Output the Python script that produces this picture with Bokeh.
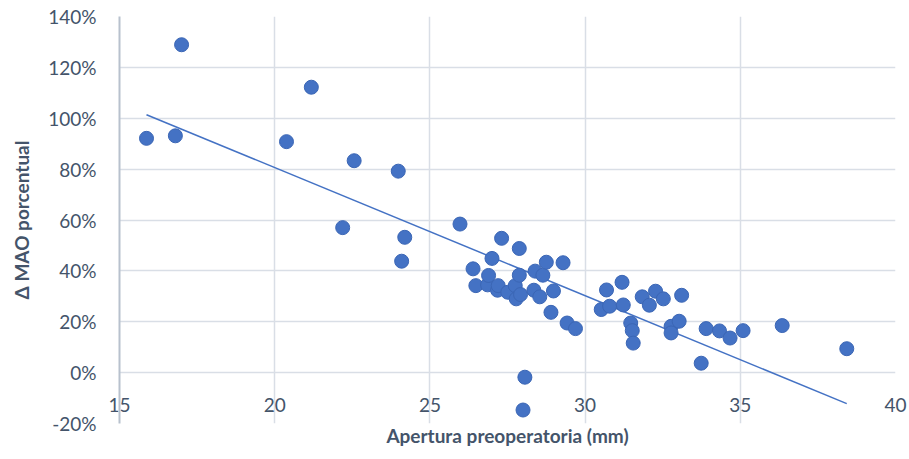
from bokeh.plotting import figure
from bokeh.models import Range1d, FixedTicker, NumeralTickFormatter
from bokeh.embed import file_html
from bokeh.resources import INLINE

# Apertura preoperatoria (mm)
apertura = [15.87, 16.80, 17.00, 20.38, 21.18, 22.19, 22.56, 23.98, 24.09, 24.19,
            25.97, 26.39, 26.48, 26.86, 26.89, 27.00, 27.18, 27.20, 27.31, 27.51,
            27.75, 27.78, 27.88, 27.88, 27.92, 28.00, 28.06, 28.35, 28.39, 28.54,
            28.64, 28.75, 28.90, 28.98, 29.29, 29.42, 29.69, 30.52, 30.69, 30.79,
            31.19, 31.23, 31.47, 31.52, 31.55, 31.84, 32.07, 32.27, 32.52, 32.77,
            32.77, 33.03, 33.11, 33.74, 33.90, 34.33, 34.67, 35.09, 36.35, 38.43]
# Δ MAO porcentual (fraction)
delta_mao = [0.921, 0.931, 1.289, 0.908, 1.122, 0.570, 0.833, 0.792, 0.438, 0.532,
             0.584, 0.408, 0.342, 0.345, 0.382, 0.449, 0.324, 0.342, 0.528, 0.316,
             0.342, 0.290, 0.383, 0.488, 0.307, -0.147, -0.018, 0.324, 0.399, 0.298,
             0.383, 0.434, 0.237, 0.321, 0.432, 0.195, 0.173, 0.248, 0.325, 0.261,
             0.355, 0.266, 0.195, 0.165, 0.116, 0.298, 0.265, 0.320, 0.290, 0.182,
             0.156, 0.202, 0.304, 0.037, 0.173, 0.164, 0.136, 0.165, 0.185, 0.094]

# linear trend line (end points)
trend_x = [15.87, 38.43]
trend_y = [1.014, -0.122]

x_ticks = [15, 20, 25, 30, 35, 40]
y_ticks = [-0.2, 0.0, 0.2, 0.4, 0.6, 0.8, 1.0, 1.2, 1.4]

FONT = "Lato"
TXT = "#44546A"
GRID = "#D9DEE6"
BLUE = "#4472C4"

p = figure(width=908, height=450, output_backend="svg", toolbar_location=None,
           x_range=Range1d(15, 40), y_range=Range1d(-0.2, 1.4),
           min_border_left=119, min_border_right=13, min_border_top=16,
           min_border_bottom=27)
p.outline_line_color = None
p.background_fill_color = "white"
p.border_fill_color = "white"

xa = p.xaxis[0]
xa.ticker = FixedTicker(ticks=x_ticks)
xa.axis_line_color = None
xa.major_tick_line_color = None
xa.minor_tick_line_color = None
xa.major_tick_in = 0
xa.major_tick_out = 0
xa.major_label_standoff = -26
xa.major_label_text_font = FONT
xa.major_label_text_font_size = "19px"
xa.major_label_text_color = TXT
xa.axis_label = "Apertura preoperatoria (mm)"
xa.axis_label_standoff = 9
xa.axis_label_text_font = FONT
xa.axis_label_text_font_size = "19px"
xa.axis_label_text_font_style = "bold"
xa.axis_label_text_color = TXT

ya = p.yaxis[0]
ya.ticker = FixedTicker(ticks=y_ticks)
ya.formatter = NumeralTickFormatter(format="0%")
ya.axis_line_color = "#B8C1CD"
ya.axis_line_width = 2
ya.major_tick_line_color = None
ya.minor_tick_line_color = None
ya.major_tick_in = 0
ya.major_tick_out = 0
ya.major_label_standoff = 23
ya.major_label_text_font = FONT
ya.major_label_text_font_size = "19px"
ya.major_label_text_color = TXT
ya.axis_label = "Δ MAO porcentual"
ya.axis_label_standoff = 12
ya.axis_label_text_font = FONT
ya.axis_label_text_font_size = "19px"
ya.axis_label_text_font_style = "bold"
ya.axis_label_text_color = TXT

p.xgrid.ticker = FixedTicker(ticks=x_ticks)
p.ygrid.ticker = FixedTicker(ticks=y_ticks)
for g in (p.xgrid[0], p.ygrid[0]):
    g.grid_line_color = GRID
    g.grid_line_width = 1.5

p.line(trend_x, trend_y, line_color=BLUE, line_width=1.5)

p.scatter(apertura, delta_mao, size=14, fill_color=BLUE, line_color="#3B66B5",
          line_width=1)

open("out.html", "w").write(file_html(p, INLINE))
